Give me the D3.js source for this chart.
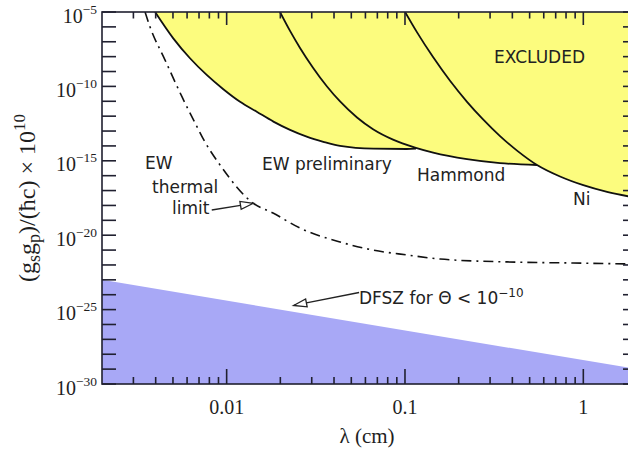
<!DOCTYPE html>
<html>
<head>
<meta charset="utf-8">
<script src="https://cdn.jsdelivr.net/npm/d3@7"></script>
<style>
  html, body { margin: 0; padding: 0; background: #fff; overflow: hidden; }
  svg { display: block; }
  .serif { font-family: "Liberation Serif", "Times New Roman", serif; fill: #1e1e1e; }
  .sans  { font-family: "DejaVu Sans", sans-serif; fill: #222; }
</style>
</head>
<body>
<svg id="chart" width="628" height="452"></svg>
<script>
// Range λ (cm) and coupling (g_s g_p)/(ħc) × 10^10
const xDomain = [0.002, 2];
const yDomain = [1e-30, 1e-5];

// Experimental exclusion limits (region above each curve is excluded)
const ewPrelimLambda = [0.00397, 0.00502, 0.00623, 0.00773, 0.00958, 0.01189, 0.01475, 0.01829, 0.02267, 0.02812, 0.03484, 0.04325, 0.0665, 0.1023, 0.1153];
const ewPrelimAlpha  = [1e-5, 1.7e-7, 7.8e-9, 5.9e-10, 6.5e-11, 9.3e-12, 2.0e-12, 4.3e-13, 1.2e-13, 4.2e-14, 1.9e-14, 1.0e-14, 6.5e-15, 6.2e-15, 6.6e-15];

const hammondLambda = [0.01991, 0.02267, 0.02579, 0.0305, 0.03654, 0.04325, 0.05385, 0.06622, 0.0857, 0.1139, 0.1439, 0.2228, 0.3412, 0.5501];
const hammondAlpha  = [1e-5, 5.37e-7, 3.86e-8, 1.81e-9, 9.8e-11, 9.7e-12, 8.1e-13, 1.31e-13, 2.62e-14, 7.7e-15, 3.56e-15, 1.30e-15, 7.0e-16, 5.2e-16];

const niLambda = [0.1001, 0.1169, 0.1437, 0.1789, 0.2228, 0.2741, 0.3412, 0.425, 0.5501, 0.7405, 1.0, 1.359, 2.0];
const niAlpha  = [1e-5, 4.26e-7, 9.3e-9, 2.38e-10, 9.2e-12, 6.05e-13, 4.57e-14, 4.84e-15, 5.22e-16, 8.8e-17, 2.29e-17, 8.1e-18, 3.2e-18];

// Projected sensitivity (EW thermal-noise limit)
const thermalLambda = [0.003487, 0.00372, 0.004515, 0.005623, 0.006653, 0.007568, 0.009183, 0.01406, 0.0182, 0.0258, 0.04325, 0.06622, 0.1027, 0.1573, 0.3736, 0.876, 2.0];
const thermalAlpha  = [1e-5, 9.8e-7, 5.9e-9, 1.95e-11, 3.5e-13, 1.8e-14, 5.2e-16, 1.45e-18, 3.1e-19, 3.0e-20, 3.5e-21, 1.0e-21, 4.7e-22, 2.5e-22, 1.6e-22, 1.35e-22, 1.15e-22];

// DFSZ axion band for Θ < 10^-10
const dfszLambda = [0.002, 2];
const dfszAlpha  = [1e-23, 1e-29];

// Tick values
const xMajorTicks = [0.01, 0.1, 1];
const xMajorLabels = ["0.01", "0.1", "1"];
const xMinorTicks = [0.003, 0.004, 0.005, 0.006, 0.007, 0.008, 0.009,
                     0.02, 0.03, 0.04, 0.05, 0.06, 0.07, 0.08, 0.09,
                     0.2, 0.3, 0.4, 0.5, 0.6, 0.7, 0.8, 0.9];
const yDecadeExps = [-5, -6, -7, -8, -9, -10, -11, -12, -13, -14, -15, -16, -17, -18, -19, -20,
                     -21, -22, -23, -24, -25, -26, -27, -28, -29, -30];
const yLabelExps = [-5, -10, -15, -20, -25, -30];

const margin = { left: 102, right: 637, top: 12, bottom: 384 };
const x = d3.scaleLog().domain(xDomain).range([margin.left, margin.right]);
const y = d3.scaleLog().domain(yDomain).range([margin.bottom, margin.top]);

const svg = d3.select("#chart");
svg.append("rect").attr("width", 628).attr("height", 452).attr("fill", "#fff");

svg.append("defs").append("clipPath").attr("id", "plotClip")
  .append("rect")
  .attr("x", margin.left).attr("y", margin.top)
  .attr("width", margin.right - margin.left).attr("height", margin.bottom - margin.top);

const plot = svg.append("g").attr("clip-path", "url(#plotClip)");

const zip = (lx, ly) => lx.map((v, i) => [v, ly[i]]);
const line = d3.line().x(d => x(d[0])).y(d => y(d[1])).curve(d3.curveMonotoneX);

// DFSZ band
const dfsz = zip(dfszLambda, dfszAlpha);
const dfszArea = d3.area().x(d => x(d[0])).y0(y(yDomain[0])).y1(d => y(d[1]));
plot.append("path").attr("d", dfszArea(dfsz)).attr("fill", "#a8a8f6");

// Excluded region: area above each limit curve
const limits = [
  zip(ewPrelimLambda, ewPrelimAlpha),
  zip(hammondLambda, hammondAlpha),
  zip(niLambda, niAlpha)
];
const excluded = d3.area().x(d => x(d[0])).y0(y(yDomain[1])).y1(d => y(d[1])).curve(d3.curveMonotoneX);
limits.forEach(pts => {
  plot.append("path").attr("d", excluded(pts)).attr("fill", "#fcfc7e").attr("stroke", "#fcfc7e").attr("stroke-width", 0.8);
});
limits.forEach(pts => {
  plot.append("path").attr("d", line(pts)).attr("fill", "none")
    .attr("stroke", "#111").attr("stroke-width", 1.8);
});

// Thermal limit (dash-dot)
plot.append("path").attr("d", line(zip(thermalLambda, thermalAlpha)))
  .attr("fill", "none").attr("stroke", "#111").attr("stroke-width", 1.6)
  .attr("stroke-dasharray", "10,5,2,5");

// Frame
const axisColor = "#202030";
const frame = svg.append("g").attr("stroke", axisColor).attr("stroke-width", 1.6).attr("fill", "none");
frame.append("rect").attr("x", margin.left).attr("y", margin.top)
  .attr("width", margin.right - margin.left).attr("height", margin.bottom - margin.top);

// Y decade ticks on left and right
yDecadeExps.forEach(e => {
  const yy = y(Math.pow(10, e));
  frame.append("line").attr("x1", margin.left).attr("x2", margin.left + 14).attr("y1", yy).attr("y2", yy);
  frame.append("line").attr("x1", margin.right).attr("x2", margin.right - 14).attr("y1", yy).attr("y2", yy);
});
// X ticks on bottom and top
xMajorTicks.forEach(v => {
  const xx = x(v);
  frame.append("line").attr("x1", xx).attr("x2", xx).attr("y1", margin.bottom).attr("y2", margin.bottom - 15);
  frame.append("line").attr("x1", xx).attr("x2", xx).attr("y1", margin.top).attr("y2", margin.top + 13);
});
xMinorTicks.forEach(v => {
  const xx = x(v);
  frame.append("line").attr("x1", xx).attr("x2", xx).attr("y1", margin.bottom).attr("y2", margin.bottom - 7);
  frame.append("line").attr("x1", xx).attr("x2", xx).attr("y1", margin.top).attr("y2", margin.top + 6.5);
});

// Y tick labels
yLabelExps.forEach(e => {
  const t = svg.append("text").attr("class", "serif")
    .attr("x", 97).attr("y", y(Math.pow(10, e)) + 10.5)
    .attr("text-anchor", "end").attr("font-size", 20);
  t.append("tspan").text("10");
  t.append("tspan").attr("font-size", 13.5).attr("dy", -9).text("\u2212" + Math.abs(e));
});

// X tick labels
xMajorTicks.forEach((v, i) => {
  svg.append("text").attr("class", "serif")
    .attr("x", x(v)).attr("y", 414).attr("text-anchor", "middle").attr("font-size", 20)
    .text(xMajorLabels[i]);
});

// Axis titles
svg.append("text").attr("class", "serif")
  .attr("x", 367).attr("y", 443).attr("text-anchor", "middle").attr("font-size", 21)
  .text("\u03bb (cm)");

const yt = svg.append("text").attr("class", "serif")
  .attr("transform", "translate(35,198) rotate(-90)")
  .attr("text-anchor", "middle").attr("font-size", 24);
yt.append("tspan").text("(g");
yt.append("tspan").attr("font-size", 18).attr("dy", 5).text("s");
yt.append("tspan").attr("dy", -5).text("g");
yt.append("tspan").attr("font-size", 18).attr("dy", 5).text("p");
yt.append("tspan").attr("dy", -5).text(")/(\u0127c) \u00d7 10");
yt.append("tspan").attr("font-size", 17).attr("dy", -10).text("10");

// Annotations
const ann = (tx, ty, s) => svg.append("text").attr("class", "sans").attr("font-size", 17)
  .attr("x", tx).attr("y", ty).text(s);
ann(494, 63, "EXCLUDED");
ann(262, 169.5, "EW preliminary");
ann(417, 181, "Hammond");
ann(573, 205, "Ni");
ann(145, 169, "EW");
ann(152, 192.5, "thermal");
ann(172, 214, "limit");
const dfszText = ann(359, 304, "DFSZ for \u0398 < 10");
dfszText.append("tspan").attr("font-size", 12).attr("dy", -7).text("\u221210");

// Open-headed arrows pointing at a curve, ends given in data space
function arrow(from, to) {
  const p0 = [x(from[0]), y(from[1])], p1 = [x(to[0]), y(to[1])];
  const dx = p1[0] - p0[0], dy = p1[1] - p0[1], len = Math.hypot(dx, dy);
  const ux = dx / len, uy = dy / len, L = 13, w = 4;
  const bx = p1[0] - ux * L, by = p1[1] - uy * L;
  svg.append("line").attr("x1", p0[0]).attr("y1", p0[1]).attr("x2", bx).attr("y2", by)
    .attr("stroke", "#222").attr("stroke-width", 1.4);
  svg.append("path")
    .attr("d", `M${p1[0]},${p1[1]}L${bx - uy * w},${by + ux * w}L${bx + uy * w},${by - ux * w}Z`)
    .attr("fill", "#fff").attr("stroke", "#222").attr("stroke-width", 1.3);
}
arrow([0.00825, 4.9e-19], [0.01412, 1.4e-18]);
arrow([0.0553, 1.4e-24], [0.02375, 1.9e-25]);
</script>
</body>
</html>
